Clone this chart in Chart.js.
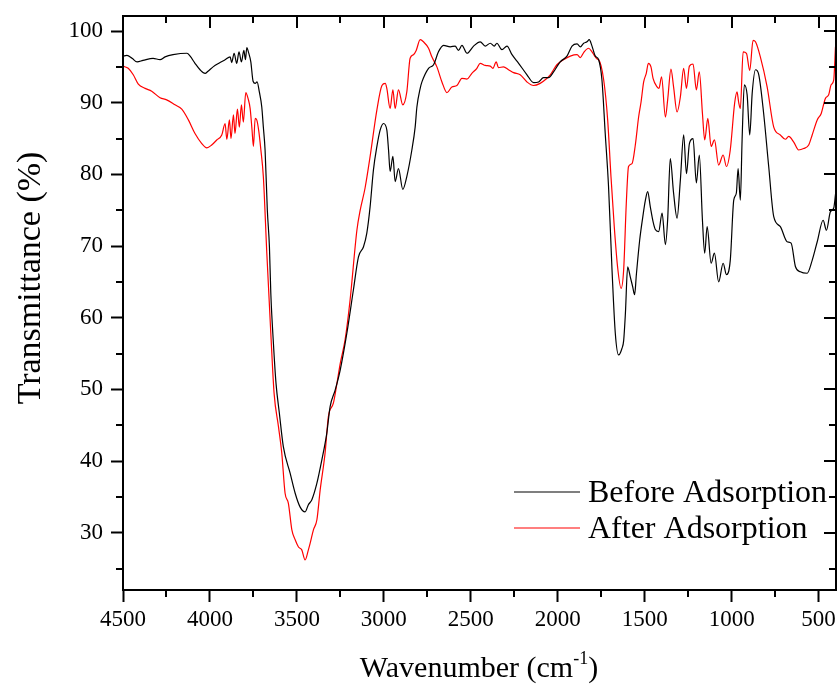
<!DOCTYPE html>
<html><head><meta charset="utf-8">
<script src="https://cdn.jsdelivr.net/npm/chart.js@4/dist/chart.umd.min.js"></script>
<style>html,body{margin:0;padding:0;background:#fff}#wrap{width:840px;height:687px}</style>
</head><body><div id="wrap"><canvas id="c" width="840" height="687"></canvas></div>
<script>
const seriesNames = ['Before Adsorption', 'After Adsorption'];
const seriesColors = ['#000000', '#ff0000'];
// [wavenumber (cm-1), transmittance (%)]
const beforeSpectrum = [
[4500,96.5],[4477,96.6],[4448,96.2],[4419,95.7],[4385,95.9],[4327,96.2],[4287,96.0],[4258,96.4],[4212,96.7],[4132,96.9],
[4114,96.5],[4086,95.5],[4057,94.6],[4028,94.1],[4011,94.4],[3982,95.0],[3942,95.6],[3913,96.0],[3884,96.4],[3875,95.6],
[3861,96.9],[3846,95.5],[3833,97.1],[3819,95.7],[3805,97.3],[3796,96.0],[3788,97.7],[3779,97.1],[3765,95.7],[3752,93.0],
[3740,92.7],[3729,92.9],[3716,91.5],[3702,89.4],[3693,86.6],[3683,83.4],[3670,75.0],[3658,69.9],[3650,63.4],[3635,56.4],
[3620,50.8],[3601,46.7],[3578,42.0],[3539,38.3],[3510,35.5],[3482,33.6],[3453,32.9],[3434,33.9],[3414,34.6],[3385,36.9],
[3357,40.1],[3328,43.9],[3309,47.6],[3280,49.9],[3251,52.7],[3213,57.8],[3175,63.9],[3146,68.5],[3117,69.9],[3098,71.8],
[3079,75.5],[3060,80.6],[3040,83.9],[3021,86.2],[3002,87.1],[2983,86.2],[2973,83.4],[2964,80.4],[2948,82.5],[2935,79.0],
[2916,80.8],[2891,77.9],[2868,79.7],[2839,83.4],[2820,86.6],[2810,89.4],[2791,92.0],[2781,92.9],[2743,94.8],[2714,95.3],
[2686,97.1],[2657,98.0],[2618,97.8],[2590,97.9],[2571,97.3],[2551,98.0],[2522,96.9],[2484,97.9],[2446,98.5],[2417,97.9],
[2388,98.3],[2365,97.9],[2350,98.3],[2321,97.4],[2292,97.9],[2263,96.7],[2225,95.5],[2177,93.9],[2139,92.8],[2110,92.9],
[2082,93.5],[2053,93.5],[2024,94.3],[1986,95.7],[1947,96.5],[1918,97.9],[1889,98.2],[1870,97.8],[1851,98.3],[1832,98.5],
[1819,98.8],[1803,97.9],[1784,96.5],[1765,96.0],[1746,93.2],[1727,85.7],[1708,78.3],[1688,66.7],[1669,57.8],[1650,54.8],
[1631,55.7],[1621,56.8],[1611,60.6],[1598,67.1],[1583,65.7],[1569,64.3],[1558,63.2],[1548,66.0],[1529,70.8],[1512,73.9],
[1496,76.4],[1483,77.6],[1468,75.5],[1452,73.4],[1439,72.3],[1420,72.0],[1400,74.6],[1381,70.2],[1368,73.7],[1353,82.2],
[1334,77.4],[1314,73.9],[1295,79.2],[1276,85.5],[1260,80.1],[1243,84.3],[1222,85.0],[1203,78.8],[1186,82.7],[1168,73.6],
[1155,69.0],[1141,72.7],[1118,67.6],[1099,69.0],[1075,65.0],[1049,67.6],[1030,66.0],[1008,68.0],[988,76.4],[973,77.4],
[963,80.8],[950,76.4],[940,84.8],[927,92.5],[911,91.1],[896,85.5],[882,91.3],[863,94.6],[844,93.9],[816,88.5],
[787,81.1],[758,74.1],[720,72.7],[681,70.6],[658,70.4],[633,67.1],[605,66.4],[566,66.2],[537,68.0],[508,70.6],
[474,73.6],[455,72.2],[432,74.8],[413,75.3],[402,77.4]
];
const afterSpectrum = [
[4500,95.1],[4470,94.8],[4441,93.9],[4412,92.6],[4373,92.0],[4335,91.6],[4287,90.7],[4249,90.4],[4201,89.7],[4162,89.1],
[4124,87.6],[4086,85.7],[4047,84.3],[4018,83.7],[3990,84.1],[3961,84.8],[3932,85.5],[3913,87.1],[3903,84.9],[3888,87.6],
[3879,85.0],[3865,88.3],[3856,85.7],[3842,89.1],[3831,86.6],[3819,89.7],[3808,87.3],[3794,91.4],[3781,90.6],[3769,89.2],
[3758,86.2],[3750,83.9],[3740,87.8],[3731,87.6],[3719,86.0],[3708,83.6],[3693,79.7],[3673,69.0],[3650,57.8],[3631,49.4],
[3606,44.8],[3587,41.1],[3568,35.5],[3549,34.1],[3529,30.4],[3510,29.0],[3491,28.0],[3472,27.6],[3453,26.2],[3434,27.6],
[3424,28.5],[3405,30.4],[3385,31.8],[3366,36.0],[3338,41.1],[3319,46.2],[3290,48.1],[3270,50.8],[3251,53.6],[3223,56.9],
[3194,62.5],[3155,72.2],[3136,75.0],[3108,78.1],[3079,82.5],[3040,89.0],[3011,92.4],[2992,92.7],[2983,92.0],[2964,89.2],
[2948,91.8],[2935,89.2],[2916,91.8],[2891,89.7],[2868,91.5],[2849,96.2],[2830,96.7],[2814,97.3],[2791,98.8],[2772,98.5],
[2743,97.6],[2724,96.4],[2695,95.0],[2666,92.9],[2637,91.4],[2609,92.2],[2580,92.4],[2551,93.4],[2522,93.3],[2494,94.1],
[2465,94.8],[2446,95.5],[2417,95.2],[2388,95.1],[2373,94.8],[2354,95.7],[2341,94.9],[2312,95.0],[2283,94.6],[2254,94.2],
[2216,93.9],[2177,92.9],[2139,92.4],[2101,92.7],[2072,93.2],[2043,93.9],[2005,95.3],[1967,96.0],[1928,96.5],[1889,96.7],
[1870,96.3],[1851,97.0],[1823,97.6],[1803,97.1],[1790,96.6],[1774,96.1],[1765,96.0],[1736,93.2],[1713,87.6],[1694,79.7],
[1675,72.7],[1656,67.1],[1636,64.1],[1621,66.7],[1606,75.9],[1593,81.1],[1573,81.5],[1554,84.1],[1535,88.0],[1521,90.1],
[1506,92.9],[1491,94.1],[1479,95.5],[1464,95.0],[1452,93.4],[1429,92.2],[1418,92.0],[1403,93.6],[1381,88.0],[1368,90.4],
[1349,94.7],[1334,92.2],[1314,88.7],[1295,90.8],[1276,94.8],[1260,92.0],[1243,95.1],[1222,95.4],[1203,91.8],[1186,94.3],
[1168,88.5],[1155,84.8],[1137,87.8],[1118,83.9],[1099,84.8],[1075,81.3],[1049,82.7],[1030,81.1],[1008,83.4],[983,89.9],
[969,91.5],[960,90.1],[950,89.2],[934,97.1],[915,96.9],[896,94.5],[877,98.7],[863,98.5],[835,96.4],[796,92.2],
[758,86.6],[720,85.5],[691,84.9],[672,85.3],[643,84.5],[615,83.4],[586,83.6],[557,84.1],[537,85.5],[508,87.6],
[485,88.5],[461,90.6],[442,91.1],[428,92.5],[413,93.2],[403,97.8]
];
const xMajorTicks = [4500, 4000, 3500, 3000, 2500, 2000, 1500, 1000, 500];
const xMinorTicks = [4250, 3750, 3250, 2750, 2250, 1750, 1250, 750];
const yMajorTicks = [30, 40, 50, 60, 70, 80, 90, 100];
const yMinorTicks = [25, 35, 45, 55, 65, 75, 85, 95];
const xTitleParts = ['Wavenumber (cm', '-1', ')'];
const yTitleText = 'Transmittance (%)';

const FONT = '"Liberation Serif", "Times New Roman", serif';

const toXY = arr => arr.map(p => ({x: p[0], y: p[1]}));

const framePlugin = {
  id: 'frame',
  afterDraw(chart) {
    const {ctx, chartArea: a, scales} = chart;
    const xs = scales.x, ys = scales.y;
    ctx.save();
    ctx.strokeStyle = '#000';
    ctx.lineWidth = 2;
    ctx.strokeRect(a.left, a.top, a.right - a.left, a.bottom - a.top);
    ctx.beginPath();
    xMajorTicks.forEach(v => { const p = Math.round(xs.getPixelForValue(v)); ctx.moveTo(p, a.top); ctx.lineTo(p, a.top + 12); });
    xMinorTicks.forEach(v => { const p = Math.round(xs.getPixelForValue(v));
      ctx.moveTo(p, a.top); ctx.lineTo(p, a.top + 7);
      ctx.moveTo(p, a.bottom); ctx.lineTo(p, a.bottom + 7); });
    yMajorTicks.forEach(v => { const p = Math.round(ys.getPixelForValue(v)); ctx.moveTo(a.right, p); ctx.lineTo(a.right - 12, p); });
    yMinorTicks.forEach(v => { const p = Math.round(ys.getPixelForValue(v));
      ctx.moveTo(a.right, p); ctx.lineTo(a.right - 7, p);
      ctx.moveTo(a.left, p); ctx.lineTo(a.left - 7, p); });
    ctx.stroke();

    // legend
    ctx.fillStyle = '#000';
    ctx.font = '32px ' + FONT;
    ctx.textBaseline = 'middle';
    ctx.textAlign = 'left';
    const legY = [492, 528];
    seriesNames.forEach((n, i) => {
      ctx.strokeStyle = seriesColors[i];
      ctx.lineWidth = 1.2;
      ctx.beginPath(); ctx.moveTo(514, legY[i]); ctx.lineTo(580, legY[i]); ctx.stroke();
      ctx.fillText(n, 588, legY[i] + 2);
    });

    // x title with superscript
    ctx.textBaseline = 'alphabetic';
    const big = '30px ' + FONT, small = '18px ' + FONT;
    ctx.font = big; const w1 = ctx.measureText(xTitleParts[0]).width, w3 = ctx.measureText(xTitleParts[2]).width;
    ctx.font = small; const w2 = ctx.measureText(xTitleParts[1]).width;
    let x0 = 479 - (w1 + w2 + w3) / 2;
    const by = 677;
    ctx.font = big; ctx.fillText(xTitleParts[0], x0, by);
    ctx.font = small; ctx.fillText(xTitleParts[1], x0 + w1, by - 13);
    ctx.font = big; ctx.fillText(xTitleParts[2], x0 + w1 + w2, by);

    // y title
    ctx.translate(40, 278);
    ctx.rotate(-Math.PI / 2);
    ctx.font = '34px ' + FONT;
    ctx.textAlign = 'center';
    ctx.textBaseline = 'alphabetic';
    ctx.fillText(yTitleText, 0, 0);
    ctx.restore();
  }
};

new Chart(document.getElementById('c'), {
  type: 'line',
  data: {
    datasets: [
      {label: seriesNames[0], data: toXY(beforeSpectrum), borderColor: seriesColors[0], borderWidth: 1.2, pointRadius: 0, cubicInterpolationMode: 'monotone', fill: false},
      {label: seriesNames[1], data: toXY(afterSpectrum), borderColor: seriesColors[1], borderWidth: 1.2, pointRadius: 0, cubicInterpolationMode: 'monotone', fill: false}
    ]
  },
  options: {
    responsive: false,
    devicePixelRatio: 1,
    animation: false,
    layout: {padding: {top: 16, right: 4, left: 0, bottom: 0}},
    plugins: {legend: {display: false}, tooltip: {enabled: false}},
    scales: {
      x: {
        type: 'linear', reverse: true, min: 400, max: 4500,
        afterBuildTicks: s => { s.ticks = xMajorTicks.map(v => ({value: v})); },
        afterFit: s => { s.height = 97; s.paddingLeft = 0; s.paddingRight = 0; },
        ticks: {font: {family: FONT, size: 23}, color: '#000', maxRotation: 0, autoSkip: false, padding: 4, callback: v => String(v)},
        grid: {display: true, drawOnChartArea: false, drawTicks: true, tickLength: 12, tickWidth: 2, tickColor: '#000'},
        border: {display: true, color: '#000', width: 2}
      },
      y: {
        type: 'linear', min: 22, max: 102.1,
        afterBuildTicks: s => { s.ticks = yMajorTicks.map(v => ({value: v})); },
        afterFit: s => { s.width = 123; s.paddingTop = 0; s.paddingBottom = 0; },
        ticks: {font: {family: FONT, size: 23}, color: '#000', padding: 8, callback: v => String(v)},
        grid: {display: true, drawOnChartArea: false, drawTicks: true, tickLength: 12, tickWidth: 2, tickColor: '#000'},
        border: {display: true, color: '#000', width: 2}
      }
    }
  },
  plugins: [framePlugin]
});
</script></body></html>
